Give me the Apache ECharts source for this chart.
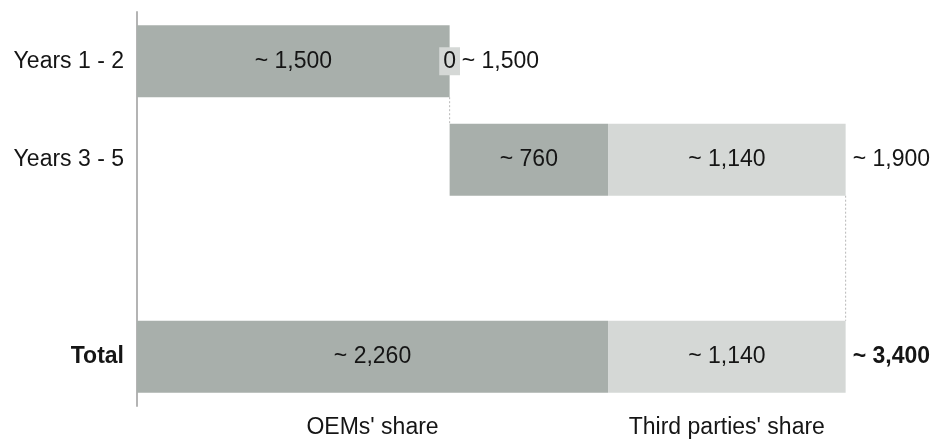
<!DOCTYPE html>
<html>
<head>
<meta charset="utf-8">
<script src="https://cdn.jsdelivr.net/npm/echarts@6/dist/echarts.min.js"></script>
<style>
  html, body { margin: 0; padding: 0; background: #fff; }
  #chart { width: 936px; height: 441px; }
</style>
</head>
<body>
<div id="chart"></div>
<script>
// Rows of the waterfall (the blank row is the spacer before the total)
const categories = ['Years 1 - 2', 'Years 3 - 5', '', 'Total'];
// Invisible offset that lifts the Years 3-5 bar to where Years 1-2 ends
const offsets = [0, 1500, null, 0];
const oemShare = [1500, 760, null, 2260];
const thirdShare = [0, 1140, null, 1140];
const rowTotals = [1500, 1900, null, 3400];
const columnTitles = ["OEMs' share", "Third parties' share"];

const FONT = '"Liberation Sans", Arial, sans-serif';
const FS = 23;
const TXT = '#151515';
const DARK = '#a8afab';
const LIGHT = '#d5d8d6';
const fmt = v => '~ ' + v.toLocaleString('en-US');

const chart = echarts.init(document.getElementById('chart'));

const option = {
  animation: false,
  grid: { left: 137, top: 12, width: 792, height: 394 },
  xAxis: { type: 'value', min: 0, max: 3800, show: false },
  yAxis: {
    type: 'category',
    inverse: true,
    data: categories.map(c => c === 'Total'
      ? { value: c, textStyle: { fontWeight: 'bold' } }
      : c),
    axisLine: { show: true, lineStyle: { color: '#b4b4b4', width: 2 } },
    axisTick: { show: false },
    axisLabel: { fontSize: FS, color: TXT, fontFamily: FONT, margin: 13 }
  },
  series: [
    {
      type: 'bar', stack: 'w', barWidth: '73%',
      itemStyle: { color: 'transparent' },
      data: offsets, silent: true
    },
    {
      type: 'bar', stack: 'w', barWidth: '73%',
      itemStyle: { color: DARK },
      label: {
        show: true, position: 'inside', fontSize: FS, color: TXT, fontFamily: FONT,
        formatter: p => fmt(p.value)
      },
      data: oemShare
    },
    {
      type: 'bar', stack: 'w', barWidth: '73%',
      itemStyle: { color: LIGHT },
      label: {
        show: true, position: 'inside', fontSize: FS, color: TXT, fontFamily: FONT,
        formatter: p => p.value === 0 ? '0' : fmt(p.value)
      },
      data: thirdShare.map(v => v === 0
        ? { value: 0, label: { backgroundColor: LIGHT, padding: [3, 4, 2, 4] } }
        : v)
    },
    {
      // zero-width bar sitting at the end of each row, carrying the row total
      type: 'bar', stack: 'w', barWidth: '73%',
      itemStyle: { color: 'transparent' },
      label: {
        show: true, position: 'right', fontSize: FS, color: TXT, fontFamily: FONT,
        formatter: p => fmt(rowTotals[p.dataIndex])
      },
      data: rowTotals.map((t, i) => t == null ? null : {
        value: 0,
        label: i === 0 ? { distance: 12 }
             : i === 3 ? { distance: 7, fontWeight: 'bold' }
             : { distance: 7 }
      })
    },
    {
      // dotted connectors from one row's end down to the next row
      type: 'custom',
      silent: true,
      encode: { x: 0, y: 1 },
      renderItem: (params, api) => {
        const v = api.value(0);
        const band = api.size([0, 1])[1];
        const half = band * 0.73 / 2;
        const p1 = api.coord([v, api.value(1)]);
        const p2 = api.coord([v, api.value(2)]);
        return {
          type: 'line',
          shape: { x1: p1[0], y1: p1[1] + half, x2: p2[0], y2: p2[1] - half },
          style: { stroke: '#b8b8b8', lineWidth: 1, lineDash: [2, 2] }
        };
      },
      data: [[rowTotals[0], 0, 1], [offsets[1] + rowTotals[1], 1, 3]]
    }
  ]
};

chart.setOption(option);

// Column titles under the total row, centred on each share segment
const totalRow = 3;
const oemMid = chart.convertToPixel({ gridIndex: 0 }, [oemShare[totalRow] / 2, totalRow]);
const thirdMid = chart.convertToPixel({ gridIndex: 0 },
  [oemShare[totalRow] + thirdShare[totalRow] / 2, totalRow]);
const titleY = 428;
chart.setOption({
  graphic: [oemMid, thirdMid].map((pt, i) => ({
    type: 'text',
    x: pt[0], y: titleY,
    style: {
      text: columnTitles[i], font: FS + 'px ' + FONT, fill: TXT,
      align: 'center', verticalAlign: 'middle'
    }
  }))
});
</script>
</body>
</html>
